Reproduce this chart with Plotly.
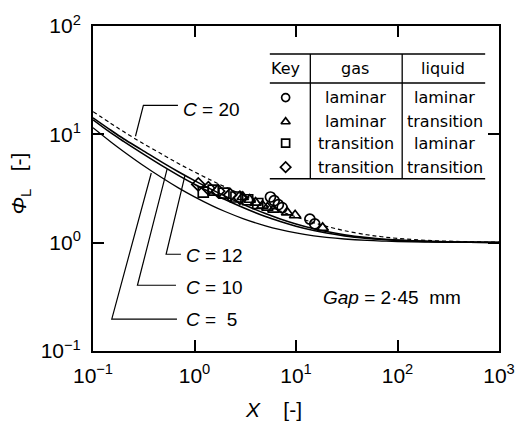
import plotly.graph_objects as go

# ---------------- data ----------------
X_CURVE = [0.1, 0.15, 0.2, 0.3, 0.5, 0.7, 1, 1.5, 2, 3, 5, 7, 10, 15, 20, 30, 50, 70, 100, 200, 500, 1000]
PHI_C5 = [11.5, 8.5, 6.95, 5.3, 3.87, 3.19, 2.65, 2.19, 1.94, 1.67, 1.43, 1.317, 1.229, 1.157, 1.119, 1.081, 1.049, 1.035, 1.025, 1.012, 1.005, 1.0025]
PHI_C10 = [13.6, 10.3, 8.6, 6.74, 5.0, 4.16, 3.46, 2.85, 2.5, 2.11, 1.74, 1.565, 1.418, 1.293, 1.226, 1.155, 1.096, 1.069, 1.049, 1.025, 1.01, 1.005]
PHI_C12 = [14.2, 10.9, 9.1, 7.22, 5.39, 4.49, 3.74, 3.07, 2.69, 2.26, 1.855, 1.654, 1.487, 1.343, 1.266, 1.184, 1.114, 1.082, 1.058, 1.03, 1.012, 1.006]
PHI_C20 = [16.2, 12.6, 10.6, 8.4, 6.4, 5.35, 4.5, 3.72, 3.27, 2.75, 2.22, 1.955, 1.73, 1.527, 1.414, 1.291, 1.183, 1.134, 1.095, 1.049, 1.02, 1.01]

# laminar gas / laminar liquid (circles)
X_LL = [5.6, 6.1, 6.7, 7.3, 13.7, 15.3]
PHI_LL = [2.64, 2.44, 2.24, 2.11, 1.65, 1.49]
# laminar gas / transition liquid (triangles)
X_LT = [2.99, 3.5, 4.0, 4.68, 5.23, 6.0, 8.18, 9.8, 18.3]
PHI_LT = [2.64, 2.49, 2.34, 2.2, 2.11, 2.02, 1.9, 1.79, 1.37]
# transition gas / laminar liquid (squares)
X_TL = [1.22, 1.53, 1.95, 2.56, 3.34, 4.2]
PHI_TL = [2.93, 3.05, 2.87, 2.64, 2.49, 2.3]
# transition gas / transition liquid (diamonds)
X_TT = [1.09, 1.37, 1.71, 2.24, 2.8]
PHI_TT = [3.45, 3.18, 2.99, 2.75, 2.6]

X_TICKS = [0.1, 1, 10, 100, 1000]
X_TICKTEXT = ["10<sup>−1</sup>", "10<sup>0</sup>", "10<sup>1</sup>", "10<sup>2</sup>", "10<sup>3</sup>"]
Y_TICKS = [0.1, 1, 10, 100]
Y_TICKTEXT = ["10<sup>−1</sup>", "10<sup>0</sup>", "10<sup>1</sup>", "10<sup>2</sup>"]

TABLE_HEAD = ["Key", "gas", "liquid"]
TABLE_GAS = ["laminar", "laminar", "transition", "transition"]
TABLE_LIQ = ["laminar", "transition", "laminar", "transition"]
KEY_SYMBOLS = ["circle-open", "triangle-up-open", "square-open", "diamond-open"]

FONT = "Liberation Sans"
TFONT = "DejaVu Sans"

# plot-area pixel frame (used only to place decorations)
PX_L, PX_R, PX_T, PX_B = 93, 504, 15, 351

def to_paper(px, py):
    return (px - PX_L) / (PX_R - PX_L), (PX_B - py) / (PX_B - PX_T)

fig = go.Figure()

for vals, w, dash in [(PHI_C5, 1.3, "solid"), (PHI_C10, 1.6, "solid"), (PHI_C12, 1.6, "solid"), (PHI_C20, 1.2, "4px,3px")]:
    fig.add_trace(go.Scatter(x=X_CURVE, y=vals, mode="lines",
                             line=dict(color="black", width=w, dash=dash, shape="spline"),
                             showlegend=False, hoverinfo="skip"))

for xs, ys, sym in [(X_TL, PHI_TL, "square-open"), (X_TT, PHI_TT, "diamond-open"),
                    (X_LT, PHI_LT, "triangle-up-open"), (X_LL, PHI_LL, "circle-open")]:
    fig.add_trace(go.Scatter(x=xs, y=ys, mode="markers",
                             marker=dict(symbol=sym, size=10, color="black", line=dict(color="black", width=1.7)),
                             showlegend=False))

# key symbols (overlay axes in pixel units)
KEY_Y = [89, 114, 136, 161]
fig.add_trace(go.Scatter(x=[288] * 4, y=KEY_Y, mode="markers", xaxis="x2", yaxis="y2",
                         marker=dict(symbol=KEY_SYMBOLS, size=8, color="black", line=dict(color="black", width=1.7)),
                         showlegend=False, hoverinfo="skip"))

shapes = []
def seg(pts, w=1.2):
    path = "M " + " L ".join(f"{x},{y}" for x, y in pts)
    shapes.append(dict(type="path", path=path, xref="x2", yref="y2",
                       line=dict(color="black", width=w)))

# leader lines for C labels
seg([(179, 97), (144, 97), (136, 129)])
seg([(182, 251), (167, 251), (186, 170)])
seg([(177, 283), (138, 283), (168, 163)])
seg([(178, 318), (112, 318), (152, 167)])

# key table lines
for yy in [44, 74, 173]:
    seg([(272, yy), (490, yy)], 1.5)
for xx in [313, 406]:
    seg([(xx, 44), (xx, 173)], 1.3)

annotations = []
def txt(x, y, s, size, font=FONT, anchor="center", angle=0):
    xp, yp = to_paper(x, y)
    annotations.append(dict(x=xp, y=yp, xref="paper", yref="paper", text=s, showarrow=False,
                            xanchor=anchor, yanchor="middle", textangle=angle,
                            font=dict(family=font, size=size, color="black")))

txt(182, 101, "<i>C</i> = 20", 19, anchor="left")
txt(185, 252, "<i>C</i> = 12", 19, anchor="left")
txt(185, 285, "<i>C</i> = 10", 19, anchor="left")
txt(185, 318, "<i>C</i> =  5", 19, anchor="left")
txt(396, 296, "<i>Gap</i> = 2·45  mm", 19)

txt(288, 59, TABLE_HEAD[0], 16, TFONT)
txt(358, 59, TABLE_HEAD[1], 16, TFONT)
txt(447, 59, TABLE_HEAD[2], 16, TFONT)
for yy, g, l in zip(KEY_Y, TABLE_GAS, TABLE_LIQ):
    txt(359, yy, g, 16, TFONT)
    txt(449, yy, l, 16, TFONT)

# axis titles
txt(276, 411, "<i>X</i>    [-]", 21)
txt(19, 178, "<i>Φ</i><sub>L</sub>   [-]", 21, angle=-90)

axis_common = dict(type="log", showgrid=False, zeroline=False, showline=True, linecolor="black",
                   linewidth=2, mirror="ticks", ticks="inside", ticklen=11, tickwidth=1.5,
                   tickcolor="black", tickfont=dict(family=FONT, size=21, color="black"))

fig.update_layout(
    width=527, height=432,
    margin=dict(l=PX_L, r=527 - PX_R, t=PX_T, b=432 - PX_B),
    paper_bgcolor="white", plot_bgcolor="white",
    xaxis=dict(range=[-1, 3], tickvals=X_TICKS, ticktext=X_TICKTEXT, ticklabelstandoff=5, **axis_common),
    yaxis=dict(range=[-1, 2], tickvals=Y_TICKS, ticktext=Y_TICKTEXT, ticklabelstandoff=6, **axis_common),
    xaxis2=dict(range=[PX_L, PX_R], overlaying="x", visible=False, fixedrange=True),
    yaxis2=dict(range=[PX_B, PX_T], overlaying="y", visible=False, fixedrange=True),
    shapes=shapes, annotations=annotations, showlegend=False,
)

fig.write_html("out.html")
